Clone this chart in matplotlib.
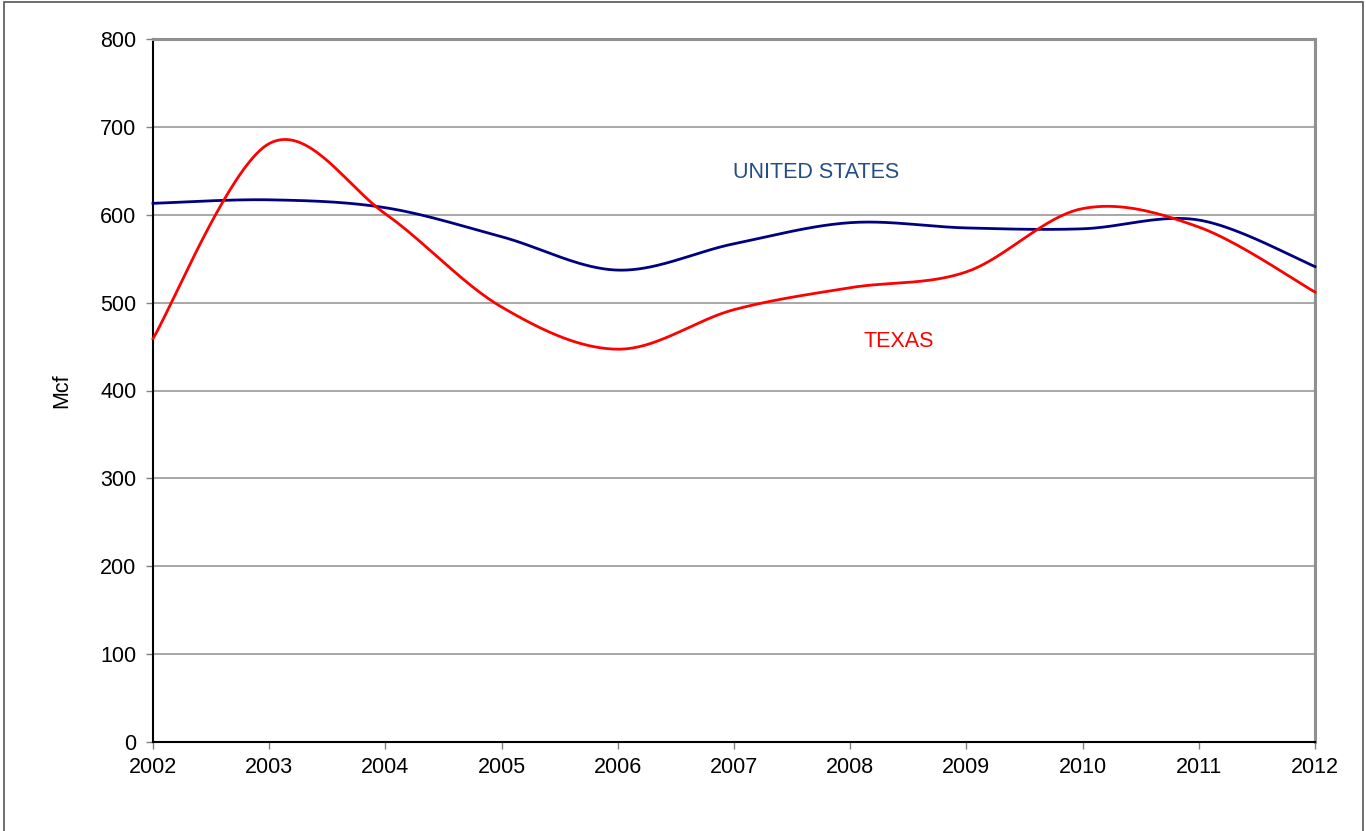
import numpy as np
import matplotlib.pyplot as plt
from matplotlib.patches import Rectangle

plt.rcParams['font.family'] = ['Liberation Sans', 'DejaVu Sans']

years = [2002, 2003, 2004, 2005, 2006, 2007, 2008, 2009, 2010, 2011, 2012]
us = [613, 617, 608, 575, 537, 567, 591, 585, 584, 594, 541]
texas = [459, 681, 601, 495, 447, 492, 517, 535, 607, 586, 512]


def suavizar(x, y, n=40):
    # curva tipo Excel (Catmull-Rom con Bezier cubica)
    x = np.asarray(x, float)
    y = np.asarray(y, float)
    xs, ys = [], []
    m = len(x)
    for i in range(m - 1):
        i0 = max(i - 1, 0)
        i3 = min(i + 2, m - 1)
        p0 = np.array([x[i], y[i]])
        p3 = np.array([x[i + 1], y[i + 1]])
        c1 = p0 + (np.array([x[i + 1], y[i + 1]]) - np.array([x[i0], y[i0]])) / 6
        c2 = p3 - (np.array([x[i3], y[i3]]) - np.array([x[i], y[i]])) / 6
        t = np.linspace(0, 1, n)[:, None]
        pts = (1 - t)**3 * p0 + 3 * (1 - t)**2 * t * c1 + 3 * (1 - t) * t**2 * c2 + t**3 * p3
        xs.extend(pts[:, 0])
        ys.extend(pts[:, 1])
    return np.array(xs), np.array(ys)


fig = plt.figure(figsize=(13.66, 8.31), dpi=100)
ax = fig.add_axes([153/1366, 1 - 742/831, (1315 - 153)/1366, (742 - 39)/831])

# borde de la figura
fig.patches.append(Rectangle((4/1366, -0.05), (1363 - 4)/1366, 1.05 - 2/831,
                             transform=fig.transFigure, fill=False,
                             edgecolor='#555555', linewidth=1.2))

xu, yu = suavizar(years, us)
xt, yt = suavizar(years, texas)
ax.plot(xu, yu, color='#000080', linewidth=2.0, zorder=3, clip_on=False)
ax.plot(xt, yt, color='#ff0000', linewidth=2.0, zorder=3, clip_on=False)

ax.set_xlim(2002, 2012)
ax.set_ylim(0, 800)
ax.set_xticks(years)
ax.set_yticks(np.arange(0, 801, 100))
ax.yaxis.grid(True, color='#a0a0a0', linewidth=1.3)
ax.set_axisbelow(True)

for s in ['left', 'bottom']:
    ax.spines[s].set_color('black')
    ax.spines[s].set_linewidth(1.5)
for s in ['top', 'right']:
    ax.spines[s].set_color('#909090')
    ax.spines[s].set_linewidth(2.2)

ax.tick_params(axis='both', direction='out', length=5, width=1,
               color='#808080', labelsize=15.5)
ax.tick_params(axis='y', pad=7)
ax.tick_params(axis='x', pad=6)

ax.set_ylabel('Mcf', fontsize=15.5, labelpad=20)

ax.text(2007.71, 648, 'UNITED STATES', color='#244d84', fontsize=15.5,
        ha='center', va='center')
ax.text(2008.42, 456, 'TEXAS', color='#ff0000', fontsize=15.5,
        ha='center', va='center')

fig.savefig('out.png', dpi=100)
